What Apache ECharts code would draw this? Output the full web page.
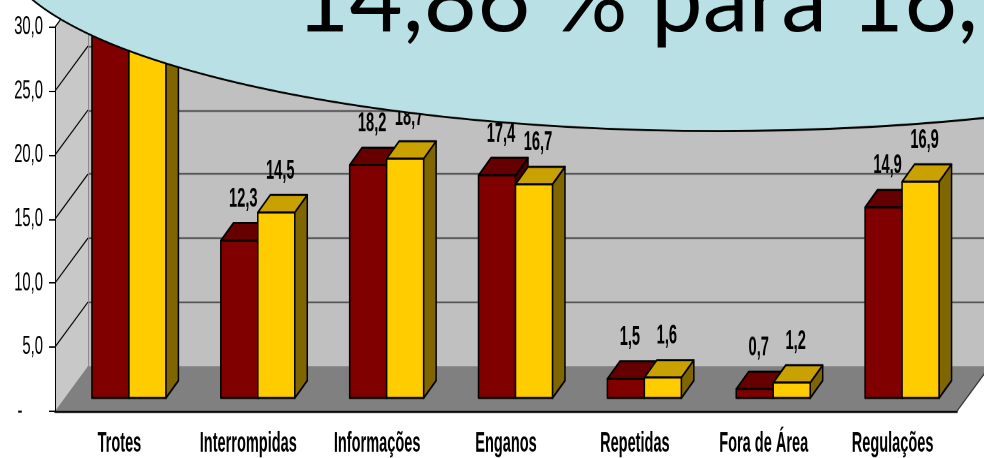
<!DOCTYPE html>
<html>
<head>
<meta charset="utf-8">
<script src="https://cdn.jsdelivr.net/npm/echarts@6/dist/echarts.min.js"></script>
<style>
  html, body { margin: 0; padding: 0; background: #fff; }
  #quadro { width: 984px; height: 458px; overflow: hidden; position: relative; }
  /* o grafico original foi esticado na vertical, por isso o scaleY */
  #main { width: 984px; height: 328px; transform: scaleY(1.396341); transform-origin: 0 0; }
</style>
</head>
<body>
<div id="quadro"><div id="main"></div></div>
<script>
var categorias = ['Trotes', 'Interrompidas', 'Informações', 'Enganos', 'Repetidas', 'Fora de Área', 'Regulações'];
var serieA = [33.6, 12.3, 18.2, 17.4, 1.5, 0.7, 14.9];
var serieB = [31.2, 14.5, 18.7, 16.7, 1.6, 1.2, 16.9];
var yTicks = [0, 5, 10, 15, 20, 25, 30];
var yTickLabels = ['-     ', '5,0', '10,0', '15,0', '20,0', '25,0', '30,0'];
var textoBalao = '14,86 % para 16,';

var SY = 458 / 328;
var WX = 33, WY = -32.2;      // profundidade das paredes
var BX0 = 9.5, BY0 = -9.3;    // recuo da face da frente das barras
var BDX = 12.5, BDY = -12.5;  // profundidade das barras
var FONTE = "'Liberation Sans', Arial, sans-serif";

function fmt(v) {
  return v.toFixed(1).replace('.', ',');
}

// paredes, chao e os textos dos eixos (letra estreita = scaleX)
function renderParedes(params, api) {
  var cs = params.coordSys;
  var L = cs.x, T = cs.y, R = cs.x + cs.width, B = cs.y + cs.height;
  var filhos = [
    { type: 'polygon', shape: { points: [[L, B], [L, T], [L + WX, T + WY], [L + WX, B + WY]] }, style: { fill: '#C8C8C8' } },
    { type: 'polygon', shape: { points: [[L, B], [R, B], [R + WX, B + WY], [L + WX, B + WY]] }, style: { fill: '#808080' } },
    { type: 'line', shape: { x1: R, y1: B, x2: R + WX, y2: B + WY }, style: { stroke: '#333', lineWidth: 1 } }
  ];
  for (var i = 0; i < yTicks.length; i++) {
    var y = api.coord([0, yTicks[i]])[1];
    if (i > 0) {
      filhos.push({ type: 'line', shape: { x1: L, y1: y, x2: L + WX, y2: y + WY }, style: { stroke: '#000', lineWidth: 1 } });
    }
    filhos.push({ type: 'text', x: L - 12, y: y, scaleX: 0.8,
      style: { text: yTickLabels[i], fontFamily: FONTE, fontSize: 18.5, fill: '#000', align: 'right', verticalAlign: 'middle' } });
  }
  for (var k = 0; k < categorias.length; k++) {
    filhos.push({ type: 'text', x: api.coord([k, 0])[0], y: B + 23.7, scaleX: 0.71,
      style: { text: categorias[k], fontFamily: FONTE, fontWeight: 'bold', fontSize: 20.5, fill: '#000', align: 'center', verticalAlign: 'middle' } });
  }
  return { type: 'group', children: filhos };
}

function fazBarra(lado, corFrente, corTopo, corLado) {
  return function (params, api) {
    var i = api.value(0), v = api.value(1);
    var c = api.coord([i, v]);
    var base = api.coord([i, 0]);
    var w = api.size([1, 0])[0] * 0.287;
    var x0 = c[0] + BX0 - (lado === 0 ? w : 0);
    var yT = c[1] + BY0, yB = base[1] + BY0;
    var traco = { stroke: '#000', lineWidth: 1.5, lineJoin: 'round' };
    return {
      type: 'group',
      children: [
        { type: 'polygon', shape: { points: [[x0 + w, yT], [x0 + w + BDX, yT + BDY], [x0 + w + BDX, yB + BDY], [x0 + w, yB]] },
          style: Object.assign({ fill: corLado }, traco) },
        { type: 'polygon', shape: { points: [[x0, yT], [x0 + w, yT], [x0 + w + BDX, yT + BDY], [x0 + BDX, yT + BDY]] },
          style: Object.assign({ fill: corTopo }, traco) },
        { type: 'rect', shape: { x: x0, y: yT, width: w, height: yB - yT },
          style: Object.assign({ fill: corFrente }, traco) },
        { type: 'text', x: x0 + w / 2 + 4, y: yT + BDY - 17, scaleX: 0.77,
          style: { text: fmt(v), fontFamily: FONTE, fontWeight: 'bold', fontSize: 19, fill: '#000', align: 'center', verticalAlign: 'middle' } }
      ]
    };
  };
}

var chart = echarts.init(document.getElementById('main'), null, { devicePixelRatio: 2 });
// parede do fundo comeca fora do topo: corta em y=0 e ajusta o max
var fundoBase = 328 - 33.66 + WY;
var fundoMax = fundoBase / ((328 - 33.66 - 19.34) / 30);
chart.setOption({
  animation: false,
  backgroundColor: '#fff',
  grid: [
    { left: 55, right: 27, top: 19.34, bottom: 33.66 },
    { left: 88, right: 0, top: 0, bottom: 328 - fundoBase, show: true, backgroundColor: '#C0C0C0', borderWidth: 0 }
  ],
  xAxis: [
    {
      gridIndex: 0, type: 'category', data: categorias, z: 5,
      axisLine: { lineStyle: { color: '#000', width: 1.5 } },
      axisTick: { length: 6, lineStyle: { color: '#000' } },
      axisLabel: { show: false }
    },
    { gridIndex: 1, type: 'category', data: categorias, show: false }
  ],
  yAxis: [
    {
      gridIndex: 0, type: 'value', min: 0, max: 30, interval: 5, z: 5,
      axisLine: { show: true, lineStyle: { color: '#000' } },
      axisTick: { show: true, length: 6, lineStyle: { color: '#000' } },
      axisLabel: { show: false },
      splitLine: { show: false }
    },
    {
      gridIndex: 1, type: 'value', min: 0, max: fundoMax, interval: 5,
      axisLine: { show: true, lineStyle: { color: '#8C8C8C', width: 2 } },
      axisTick: { show: false },
      axisLabel: { show: false },
      splitLine: { show: true, showMinLine: false, showMaxLine: false, lineStyle: { color: '#555', width: 1.2 } }
    }
  ],
  series: [
    { name: 'paredes', type: 'custom', xAxisIndex: 0, yAxisIndex: 0, z: 1, silent: true,
      data: [[0, 0]], renderItem: renderParedes },
    { name: 'Ano 1', type: 'custom', xAxisIndex: 0, yAxisIndex: 0, z: 2, encode: { x: 0, y: 1 },
      data: serieA.map(function (v, i) { return [i, v]; }),
      renderItem: fazBarra(0, '#800000', '#660000', '#4D0000') },
    { name: 'Ano 2', type: 'custom', xAxisIndex: 0, yAxisIndex: 0, z: 3, encode: { x: 0, y: 1 },
      data: serieB.map(function (v, i) { return [i, v]; }),
      renderItem: fazBarra(1, '#FFCC00', '#C9A100', '#806600') }
  ],
  graphic: [
    { type: 'ellipse', z: 100, shape: { cx: 720, cy: -40.1, rx: 720, ry: 133.9 },
      style: { fill: '#B9E0E4', stroke: '#000', lineWidth: 1.4 } },
    { type: 'text', z: 101, x: 296, y: 33 / SY, scaleY: 1 / SY,
      style: { text: textoBalao, font: '92px Lato, sans-serif', fill: '#000', verticalAlign: 'middle', y: -31 } }
  ]
});
</script>
</body>
</html>
